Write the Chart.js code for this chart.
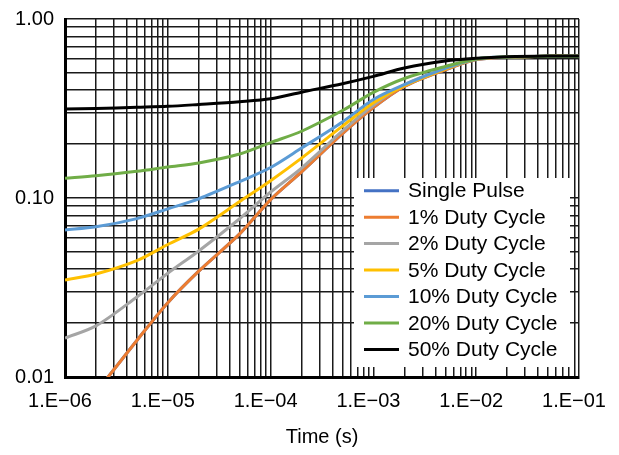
<!DOCTYPE html>
<html>
<head>
<meta charset="utf-8">
<script src="https://cdn.jsdelivr.net/npm/chart.js@4.4.1/dist/chart.umd.min.js"></script>
<style>
  html, body { margin: 0; padding: 0; background: #ffffff; }
  #wrap { width: 619px; height: 455px; }
</style>
</head>
<body>
<div id="wrap"><canvas id="c" width="619" height="455"></canvas></div>
<script>
// Time points (s)
const times = [1e-6, 2e-6, 5e-6, 1e-5, 2e-5, 5e-5, 1e-4, 2e-4, 5e-4, 1e-3, 2e-3, 5e-3, 1e-2, 2e-2, 5e-2, 1e-1];

// Series values (normalized thermal impedance)
const singlePulse = [0.005, 0.0082, 0.016, 0.026, 0.039, 0.063, 0.098, 0.14, 0.229, 0.32, 0.42, 0.52, 0.593, 0.612, 0.62, 0.62];
const duty1  = [0.005, 0.0082, 0.016, 0.026, 0.039, 0.063, 0.098, 0.14, 0.229, 0.32, 0.42, 0.52, 0.593, 0.612, 0.62, 0.62];
const duty2  = [0.0165, 0.0193, 0.028, 0.038, 0.0506, 0.0766, 0.108, 0.147, 0.237, 0.33, 0.43, 0.53, 0.595, 0.613, 0.62, 0.62];
const duty5  = [0.0348, 0.0376, 0.0447, 0.055, 0.067, 0.0955, 0.125, 0.167, 0.252, 0.34, 0.425, 0.525, 0.597, 0.613, 0.62, 0.62];
const duty10 = [0.0663, 0.069, 0.0767, 0.087, 0.099, 0.1235, 0.148, 0.19, 0.266, 0.355, 0.43, 0.53, 0.598, 0.614, 0.62, 0.62];
const duty20 = [0.129, 0.133, 0.141, 0.149, 0.157, 0.176, 0.204, 0.236, 0.308, 0.389, 0.465, 0.543, 0.598, 0.614, 0.62, 0.62];
const duty50 = [0.314, 0.316, 0.321, 0.325, 0.333, 0.345, 0.358, 0.39, 0.435, 0.478, 0.532, 0.582, 0.603, 0.615, 0.621, 0.621];

const seriesLabels = ['Single Pulse', '1% Duty Cycle', '2% Duty Cycle', '5% Duty Cycle', '10% Duty Cycle', '20% Duty Cycle', '50% Duty Cycle'];
const seriesValues = [singlePulse, duty1, duty2, duty5, duty10, duty20, duty50];
const seriesColors = ['#4472C4', '#ED7D31', '#A5A5A5', '#FFC000', '#5B9BD5', '#70AD47', '#000000'];

// Tick values
const xMajorTicks = [1e-6, 1e-5, 1e-4, 1e-3, 1e-2, 1e-1];
const yMajorTicks = [0.01, 0.1, 1];
const xTickLabels = ['1.E\u221206', '1.E\u221205', '1.E\u221204', '1.E\u221203', '1.E\u221202', '1.E\u221201'];
const yTickLabels = ['0.01', '0.10', '1.00'];
const xTitle = 'Time (s)';

const FONT = '"Liberation Sans", Arial, sans-serif';

function allTicks(majors) {
  const out = [];
  for (let i = 0; i < majors.length; i++) {
    const m = majors[i];
    if (i === majors.length - 1) { out.push(m); break; }
    for (let k = 1; k <= 9; k++) out.push(k * m);
  }
  return out;
}
function labelFor(v, majors, labels) {
  for (let i = 0; i < majors.length; i++) {
    if (Math.abs(Math.log10(v) - Math.log10(majors[i])) < 1e-6) return labels[i];
  }
  return '';
}

const datasets = seriesLabels.map((lab, i) => ({
  label: lab,
  data: times.map((t, j) => ({ x: t, y: seriesValues[i][j] })),
  borderColor: seriesColors[i],
  backgroundColor: seriesColors[i],
  borderWidth: 3,
  pointRadius: 0,
  showLine: true,
  fill: false,
  tension: 0.3,
  order: seriesLabels.length - i
}));

const legendPlugin = {
  id: 'boxLegend',
  afterDatasetsDraw(chart) {
    const ctx = chart.ctx;
    const a = chart.chartArea;
    const boxW = 216, boxH = 189;
    const bx = a.right - 9 - boxW;
    const by = a.bottom - 10 - boxH;
    ctx.save();
    ctx.fillStyle = '#ffffff';
    ctx.fillRect(bx, by, boxW, boxH);
    const rowH = 26.45;
    ctx.font = '21px ' + FONT;
    ctx.textBaseline = 'middle';
    ctx.textAlign = 'left';
    chart.data.datasets.forEach((ds, i) => {
      const y = by + 12.7 + i * rowH;
      ctx.strokeStyle = ds.borderColor;
      ctx.lineWidth = 3;
      ctx.beginPath();
      ctx.moveTo(bx + 10, y);
      ctx.lineTo(bx + 45, y);
      ctx.stroke();
      ctx.fillStyle = '#000000';
      ctx.fillText(ds.label, bx + 54, y + 1);
    });
    ctx.restore();
  }
};

new Chart(document.getElementById('c'), {
  type: 'scatter',
  data: { datasets },
  plugins: [legendPlugin],
  options: {
    responsive: false,
    animation: false,
    devicePixelRatio: 1,
    layout: { padding: { left: 0, top: 19, right: 40, bottom: 0 } },
    plugins: { legend: { display: false }, tooltip: { enabled: false } },
    scales: {
      x: {
        type: 'logarithmic',
        min: 1e-6, max: 1e-1,
        afterBuildTicks: (s) => { s.ticks = allTicks(xMajorTicks).map(v => ({ value: v })); },
        afterFit: (s) => { s.height = 78; },
        ticks: {
          autoSkip: false, maxRotation: 0, minRotation: 0,
          padding: 0, labelOffset: -5,
          color: '#000', font: { family: FONT, size: 20 },
          callback: (v) => labelFor(v, xMajorTicks, xTickLabels)
        },
        grid: { color: '#1a1a1a', lineWidth: 1.5, drawTicks: true, tickLength: 12, tickColor: 'rgba(0,0,0,0)' },
        border: { color: '#000', width: 3 },
        title: { display: true, text: xTitle, color: '#000', font: { family: FONT, size: 20 }, padding: { top: 4, bottom: 6 } }
      },
      y: {
        type: 'logarithmic',
        min: 0.01, max: 1,
        afterBuildTicks: (s) => { s.ticks = allTicks(yMajorTicks).map(v => ({ value: v })); },
        afterFit: (s) => { s.width = 65; },
        ticks: {
          autoSkip: false, padding: 0,
          color: '#000', font: { family: FONT, size: 20 },
          callback: (v) => labelFor(v, yMajorTicks, yTickLabels)
        },
        grid: { color: '#1a1a1a', lineWidth: 1.5, drawTicks: true, tickLength: 11, tickColor: 'rgba(0,0,0,0)' },
        border: { color: '#000', width: 3 }
      }
    }
  }
});
</script>
</body>
</html>
